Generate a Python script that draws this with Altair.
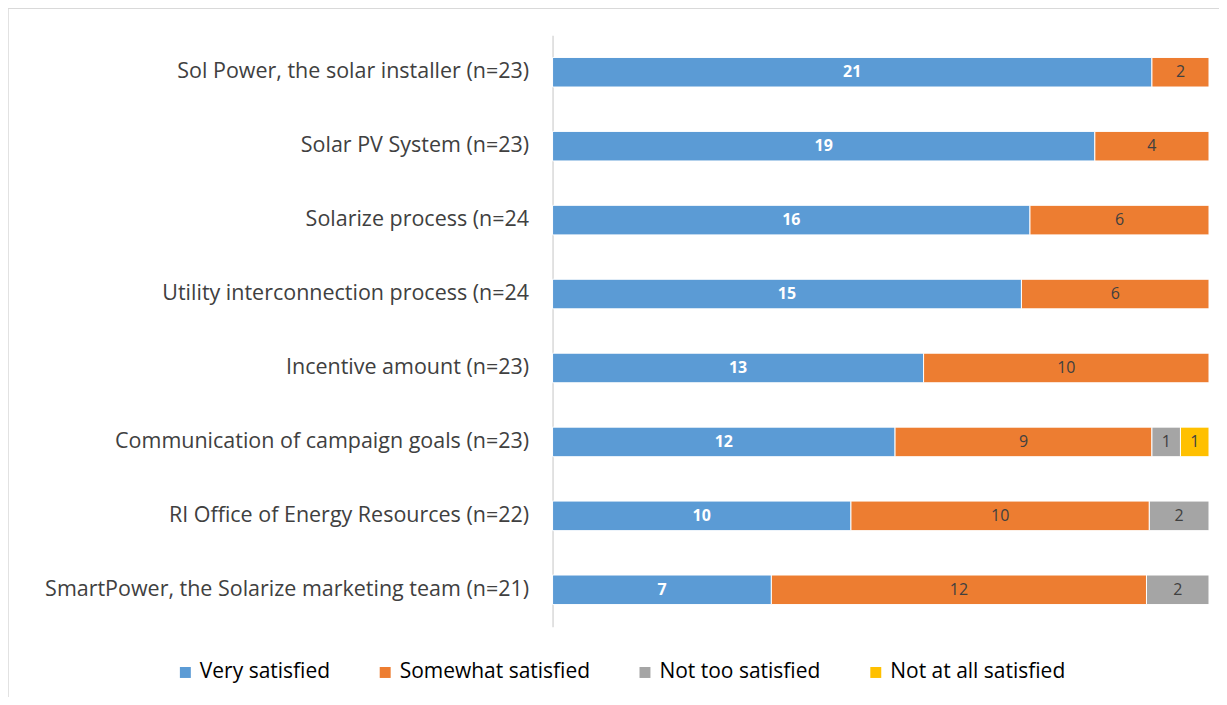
import altair as alt
import pandas as pd

categories = [
    "Sol Power, the solar installer (n=23)",
    "Solar PV System (n=23)",
    "Solarize process (n=24",
    "Utility interconnection process (n=24",
    "Incentive amount (n=23)",
    "Communication of campaign goals (n=23)",
    "RI Office of Energy Resources (n=22)",
    "SmartPower, the Solarize marketing team (n=21)",
]
levels = ["Very satisfied", "Somewhat satisfied", "Not too satisfied", "Not at all satisfied"]
very = [21, 19, 16, 15, 13, 12, 10, 7]
somewhat = [2, 4, 6, 6, 10, 9, 10, 12]
not_too = [0, 0, 0, 0, 0, 1, 2, 2]
not_at_all = [0, 0, 0, 0, 0, 1, 0, 0]
colors = ["#5B9BD5", "#ED7D31", "#A5A5A5", "#FFC000"]

rows = []
for i, c in enumerate(categories):
    for j, (lvl, vals) in enumerate(zip(levels, [very, somewhat, not_too, not_at_all])):
        if vals[i] > 0:
            rows.append({"cat": c, "level": lvl, "ord": j, "value": vals[i]})
df = pd.DataFrame(rows)

FONT = "Open Sans"

base = alt.Chart(df).transform_stack(
    stack="value", groupby=["cat"], as_=["s0", "s1"], offset="normalize",
    sort=[alt.SortField("ord", order="ascending")]
).transform_calculate(mid="(datum.s0 + datum.s1) / 2")

y = alt.Y("cat:N", sort=categories, title=None,
          scale=alt.Scale(paddingInner=0.6, paddingOuter=0.3),
          axis=alt.Axis(ticks=False, domainColor="#d9d9d9", domainWidth=1.5,
                        labelFontSize=21.5, labelColor="#404040", labelFont=FONT,
                        labelPadding=24, labelLimit=700))

bars = base.mark_bar(stroke="white", strokeWidth=1).encode(
    x=alt.X("s0:Q", axis=None, scale=alt.Scale(domain=[0, 1], nice=False)),
    x2="s1:Q",
    y=y,
    color=alt.Color("level:N", sort=levels,
                    scale=alt.Scale(domain=levels, range=colors),
                    legend=alt.Legend(title=None, orient="none", direction="horizontal",
                                      legendX=-378, legendY=627, columns=4,
                                      columnPadding=44, symbolType="square",
                                      symbolSize=120, symbolStrokeWidth=0,
                                      labelFontSize=21, labelFont=FONT,
                                      labelColor="#000000", labelLimit=400)),
)

txt_blue = base.transform_filter(alt.datum.ord == 0).mark_text(
    color="white", fontWeight="bold", fontSize=16, font=FONT
).encode(x="mid:Q", y=alt.Y("cat:N", sort=categories), text="value:Q")

txt_other = base.transform_filter(alt.datum.ord > 0).mark_text(
    color="#404040", fontSize=16, font=FONT
).encode(x="mid:Q", y=alt.Y("cat:N", sort=categories), text="value:Q")

frame = alt.Chart(pd.DataFrame({"a": [0]})).mark_rect(
    fill=None, stroke="#d9d9d9", strokeWidth=1.5
).encode(x=alt.value(-545), x2=alt.value(672), y=alt.value(-27), y2=alt.value(665))

chart = alt.layer(frame, bars, txt_blue, txt_other).properties(
    width=657, height=592,
    autosize=alt.AutoSizeParams(type="none"),
    padding={"left": 545, "top": 27, "right": 10, "bottom": 70},
).configure_view(stroke=None)

chart.save("out.html", embed_options={"renderer": "svg", "actions": False})
